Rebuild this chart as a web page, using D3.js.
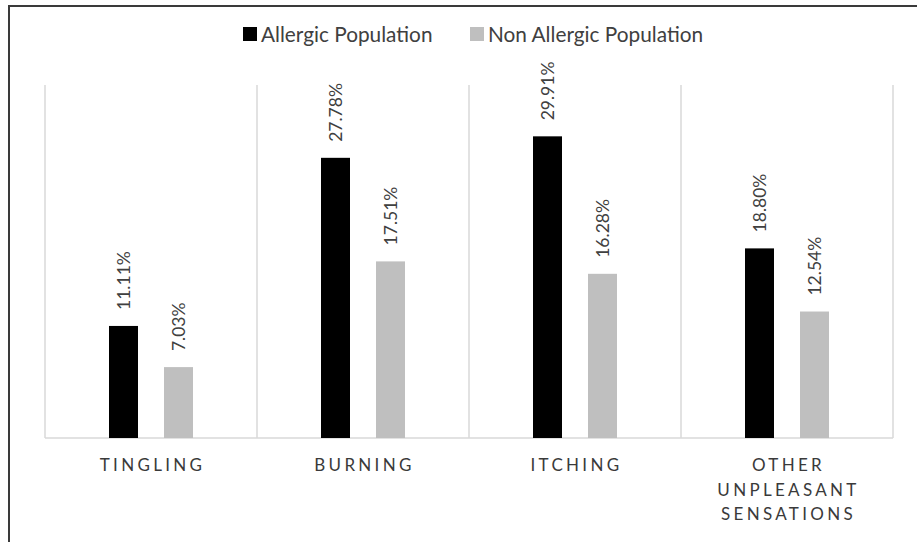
<!DOCTYPE html>
<html>
<head>
<meta charset="utf-8">
<script src="https://cdn.jsdelivr.net/npm/d3@7"></script>
<style>
  html, body { margin: 0; padding: 0; background: #fff; }
  svg { display: block; font-family: Lato, "Open Sans", sans-serif; }
</style>
</head>
<body>
<div id="chart"></div>
<script>
// Sensation categories (multi-line labels split on "\n")
const categories = ["TINGLING", "BURNING", "ITCHING", "OTHER\nUNPLEASANT\nSENSATIONS"];
const seriesNames = ["Allergic Population", "Non Allergic Population"];
const allergic = [11.11, 27.78, 29.91, 18.80];
const nonAllergic = [7.03, 17.51, 16.28, 12.54];
const seriesColors = ["#000000", "#bfbfbf"];

const W = 917, H = 542;
const plot = { left: 45, right: 893, top: 85, bottom: 438 };

const svg = d3.select("#chart").append("svg")
  .attr("width", W).attr("height", H);

// outer frame (only top and left edges fall inside the view)
svg.append("rect")
  .attr("x", 9).attr("y", 6)
  .attr("width", W + 20).attr("height", H + 20)
  .attr("fill", "none").attr("stroke", "#3a3a3a").attr("stroke-width", 2);

const x = d3.scaleBand().domain(categories).range([plot.left, plot.right]).padding(0);
const xInner = d3.scaleBand().domain(seriesNames).range([64, 148]).paddingInner(26 / 55).paddingOuter(0);
const y = d3.scaleLinear().domain([0, 35]).range([plot.bottom, plot.top]);

// vertical separators between categories
const bounds = categories.map(c => x(c)).concat([plot.right]);
svg.append("g").selectAll("line").data(bounds).join("line")
  .attr("x1", d => d).attr("x2", d => d)
  .attr("y1", plot.top).attr("y2", plot.bottom)
  .attr("stroke", "#d9d9d9").attr("stroke-width", 1.5);

// baseline
svg.append("line")
  .attr("x1", plot.left).attr("x2", plot.right)
  .attr("y1", plot.bottom).attr("y2", plot.bottom)
  .attr("stroke", "#d9d9d9").attr("stroke-width", 1.5);

const rows = categories.map((c, i) => ({
  cat: c,
  values: [
    { s: seriesNames[0], v: allergic[i], color: seriesColors[0] },
    { s: seriesNames[1], v: nonAllergic[i], color: seriesColors[1] }
  ]
}));

const groups = svg.append("g").selectAll("g").data(rows).join("g")
  .attr("transform", d => `translate(${x(d.cat)},0)`);

groups.selectAll("rect").data(d => d.values).join("rect")
  .attr("x", d => xInner(d.s))
  .attr("width", xInner.bandwidth())
  .attr("y", d => y(d.v))
  .attr("height", d => y(0) - y(d.v))
  .attr("fill", d => d.color);

// value labels, rotated, above each bar
groups.selectAll("text").data(d => d.values).join("text")
  .attr("transform", d => `translate(${xInner(d.s) + xInner.bandwidth() / 2},${y(d.v) - 16}) rotate(-90)`)
  .attr("dy", "0.36em")
  .attr("text-anchor", "start")
  .attr("font-size", 17.5)
  .attr("fill", "#404040")
  .text(d => d.v.toFixed(2) + "%");

// category axis labels
const catLabels = svg.append("g").selectAll("text").data(categories).join("text")
  .attr("x", d => x(d) + x.bandwidth() / 2)
  .attr("y", 471)
  .attr("text-anchor", "middle")
  .attr("font-size", 17)
  .attr("letter-spacing", "3.3px")
  .attr("fill", "#3a3a3a");
catLabels.each(function(d) {
  const t = d3.select(this);
  d.split("\n").forEach((line, i) => {
    t.append("tspan")
      .attr("x", x(d) + x.bandwidth() / 2 + 1.5)
      .attr("dy", i === 0 ? 0 : 24.5)
      .text(line);
  });
});

// legend
const legendItems = [
  { name: seriesNames[0], color: seriesColors[0], x: 243 },
  { name: seriesNames[1], color: seriesColors[1], x: 470 }
];
const lg = svg.append("g").selectAll("g").data(legendItems).join("g")
  .attr("transform", d => `translate(${d.x},27)`);
lg.append("rect").attr("width", 14).attr("height", 14).attr("fill", d => d.color);
lg.append("text")
  .attr("x", 18).attr("y", 14.5)
  .attr("font-size", 20.8)
  .attr("fill", "#404040")
  .text(d => d.name);
</script>
</body>
</html>
